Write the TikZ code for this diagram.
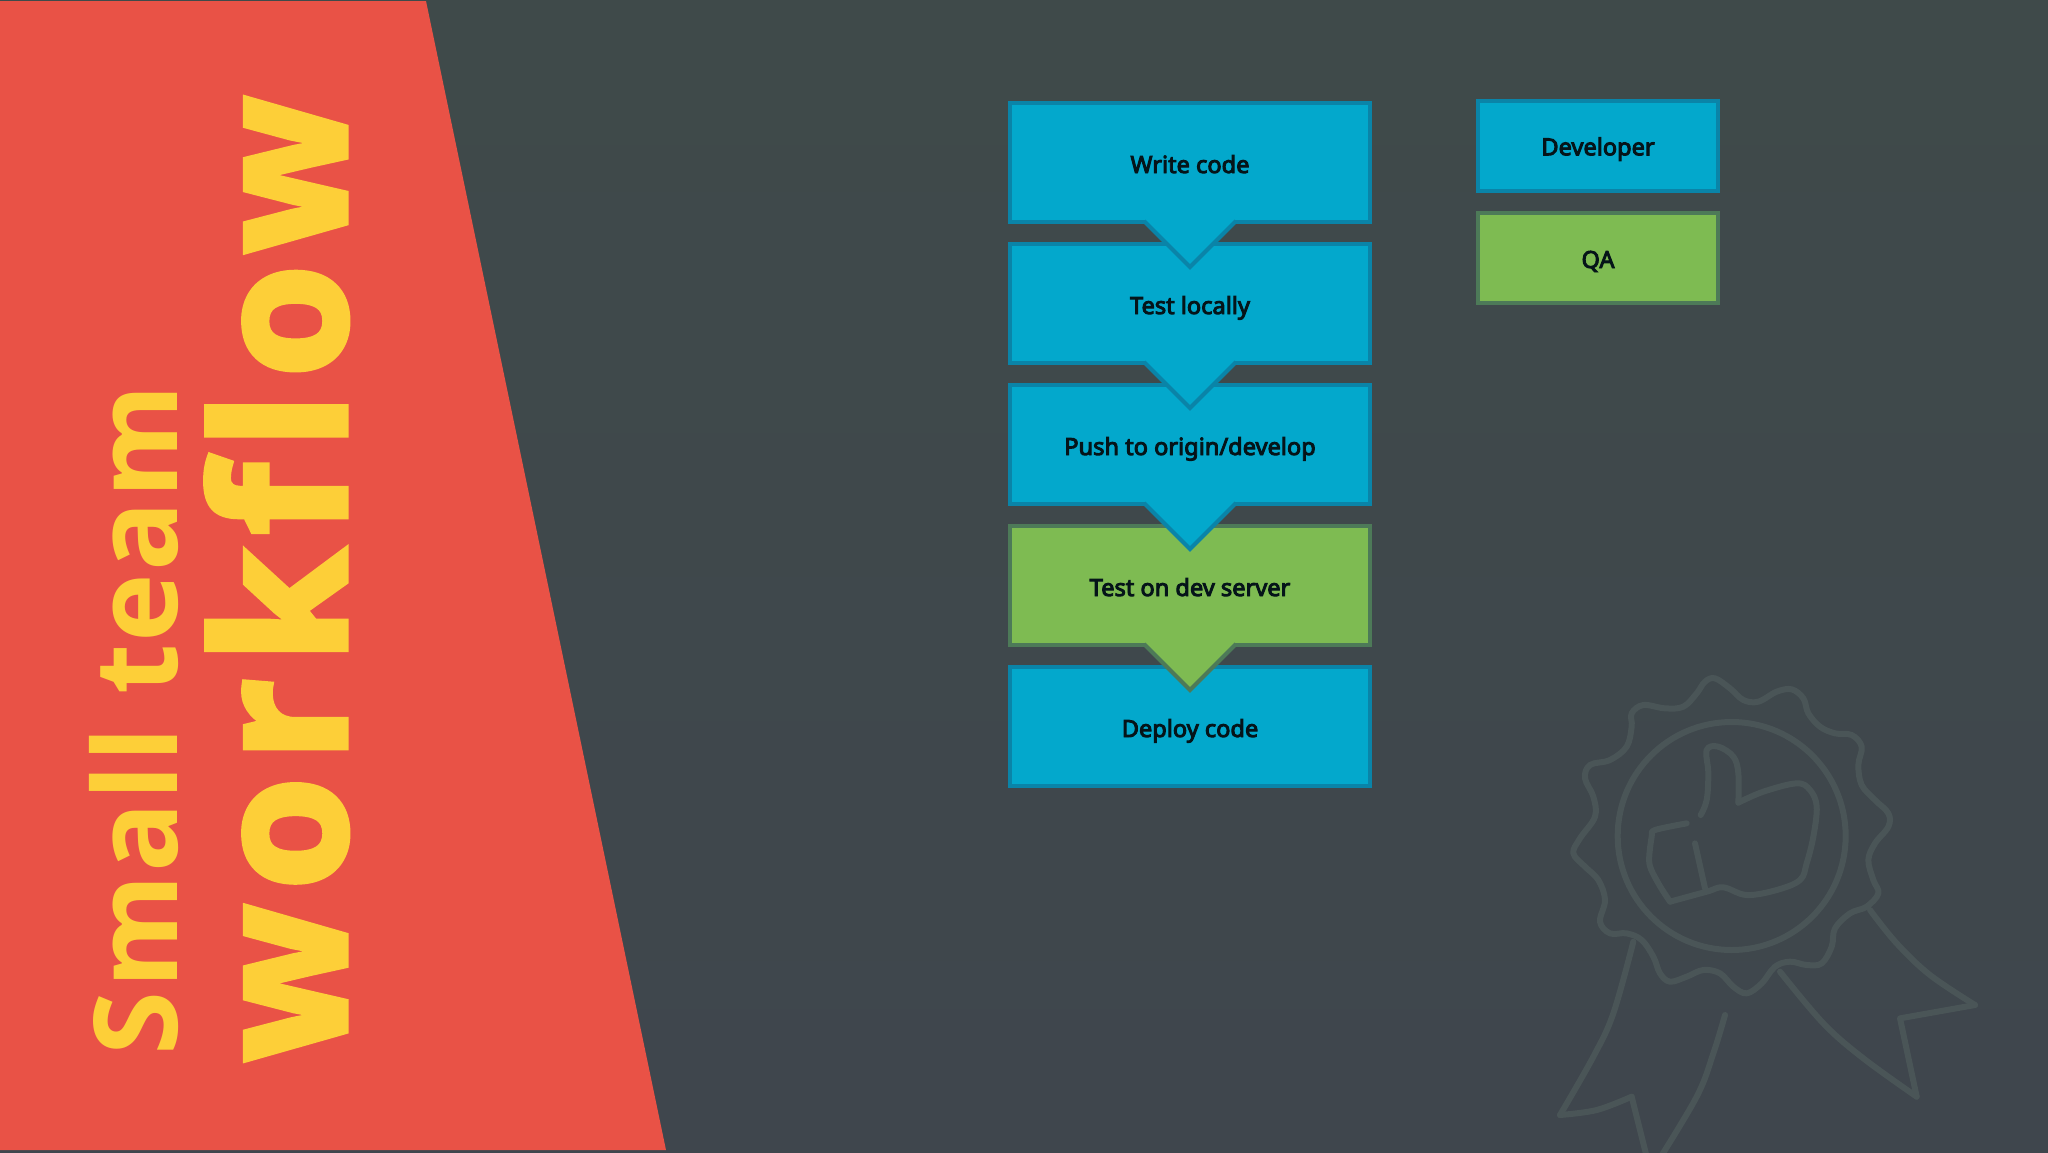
\documentclass[tikz,border=0pt]{standalone}
\usepackage{fontspec}
\usetikzlibrary{calc}
\setmainfont{Noto Sans}
\newfontfamily\labelfont{Noto Sans}[FakeBold=4]
\newfontfamily\titlefont{Open Sans}[UprightFont=* Bold,LetterSpace=2,Ligatures=NoCommon]
\newfontfamily\heavyfont{Open Sans}[UprightFont=* Bold,FakeBold=3.5,LetterSpace=8.6,Ligatures=NoCommon]
\definecolor{bgtop}{RGB}{63,74,74}
\definecolor{bgbot}{RGB}{63,70,77}
\definecolor{redpanel}{RGB}{233,82,70}
\definecolor{titleyellow}{RGB}{253,207,56}
\definecolor{bluefill}{RGB}{3,168,204}
\definecolor{blueline}{RGB}{10,132,168}
\definecolor{greenfill}{RGB}{126,187,82}
\definecolor{greenline}{RGB}{77,122,88}
\definecolor{badgeline}{RGB}{74,85,87}
\definecolor{labelink}{RGB}{5,20,25}
\tikzset{
  stepbox/.style={draw,line width=2pt,outer sep=0pt,inner sep=0pt,minimum width=180pt,minimum height=59.5pt,
    text height=10.5pt,text depth=0pt,text=labelink,font=\labelfont\fontsize{11.8}{15}\selectfont},
  legendbox/.style={stepbox,minimum width=120pt,minimum height=45pt},
  bluebox/.style={fill=bluefill,draw=blueline},
  greenbox/.style={fill=greenfill,draw=greenline},
  badge/.style={draw=badgeline,line width=3pt,line cap=round,line join=round},
  title/.style={rotate=90,anchor=base west,inner sep=0pt,outer sep=0pt,text=titleyellow}
}
\newcommand{\pointer}[3]{%
  \fill[#2] ($(#1.south)+(-45,-3)$) -- ($(#1.south)+(45,-3)$) -- ($(#1.south)+(45,0)$) -- ($(#1.south)+(0,45)$) -- ($(#1.south)+(-45,0)$) -- cycle;
  \draw[#3,line width=2pt,line join=miter] ($(#1.south)+(-46,-1)$) -- ($(#1.south)+(0,45)$) -- ($(#1.south)+(46,-1)$);
}
\begin{document}
\begin{tikzpicture}[x=0.5pt,y=-0.5pt]
\useasboundingbox (0,0) rectangle (2048,1152);
\clip (0,0) rectangle (2048,1152);
\shade[top color=bgtop,bottom color=bgbot] (0,0) rectangle (2048,1152);
\fill[redpanel] (0,1) -- (426,1) -- (666,1150) -- (0,1150) -- cycle;
\node[title,font=\titlefont\fontsize{58}{60}\selectfont] (small) at (177,1055) {Small team};
\node[title,font=\heavyfont\fontsize{91}{96}\selectfont] (work) at (345.5,1061) {workflow};
% badge
\begin{scope}[shift={(1530,650)},scale=1/3]
\draw[badge] plot[smooth cycle,tension=0.6] coordinates {(555,85) (600,115) (640,150) (685,155) (740,125) (785,118) (820,145) (835,190) (870,230) (915,250) (965,255) (995,290) (985,345) (995,405) (1035,450) (1075,490) (1075,530) (1035,580) (1015,630) (1030,690) (1045,730) (1010,770) (960,790) (915,835) (905,890) (875,940) (830,945) (780,935) (735,950) (695,1000) (650,1030) (610,1010) (570,970) (520,960) (470,980) (420,995) (390,970) (370,920) (335,870) (290,850) (240,850) (210,815) (225,750) (205,690) (165,650) (130,610) (150,565) (195,500) (190,440) (165,385) (180,345) (240,330) (290,290) (305,230) (305,190) (340,165) (405,175) (460,170) (500,130) (525,95)};
\draw[badge] (605,558) circle[radius=342];
\draw[badge] plot[smooth,tension=0.6] coordinates {(512,495) (530,450) (535,370) (530,300) (565,290) (610,320) (625,370) (625,458)};
\draw[badge] plot[smooth,tension=0.6] coordinates {(625,458) (700,425) (800,400) (840,420) (860,470) (850,560) (830,640) (810,690) (740,720) (650,735) (580,712) (530,725) (420,755)};
\draw[badge] plot[smooth,tension=0.5] coordinates {(420,755) (385,700) (358,640) (365,560) (375,540) (470,520)};
\draw[badge] (495,580) -- (525,715);
\draw[badge] plot[smooth,tension=0.6] coordinates {(310,875) (250,1090) (190,1220) (90,1395)};
\draw[badge] plot[smooth,tension=0.6] coordinates {(90,1395) (200,1380) (305,1340)};
\draw[badge] (305,1340) -- (355,1540);
\draw[badge] plot[smooth,tension=0.6] coordinates {(380,1540) (500,1340) (550,1210) (585,1095)};
\draw[badge] plot[smooth,tension=0.6] coordinates {(1020,780) (1100,880) (1200,975) (1335,1065)};
\draw[badge] (1335,1065) -- (1110,1105) -- (1160,1340);
\draw[badge] plot[smooth,tension=0.6] coordinates {(1160,1340) (1000,1225) (880,1120) (750,965)};
\end{scope}
% flow, lowest first so that each pointer overlaps the next box
\node[stepbox,bluebox] (deploy) at (1190,726.5) {Deploy code};
\node[stepbox,greenbox] (devtest) at (1190,585.5) {Test on dev server};
\pointer{devtest}{greenfill}{greenline}
\node[stepbox,bluebox] (push) at (1190,444.5) {Push to origin/develop};
\pointer{push}{bluefill}{blueline}
\node[stepbox,bluebox] (local) at (1190,303.5) {Test locally};
\pointer{local}{bluefill}{blueline}
\node[stepbox,bluebox] (write) at (1190,162.5) {Write code};
\pointer{write}{bluefill}{blueline}
% legend
\node[legendbox,bluebox,text height=9.3pt] (dev) at (1598,146) {Developer};
\node[legendbox,greenbox,text height=10pt] (qa) at (1598,258) {QA};
\end{tikzpicture}
\end{document}
